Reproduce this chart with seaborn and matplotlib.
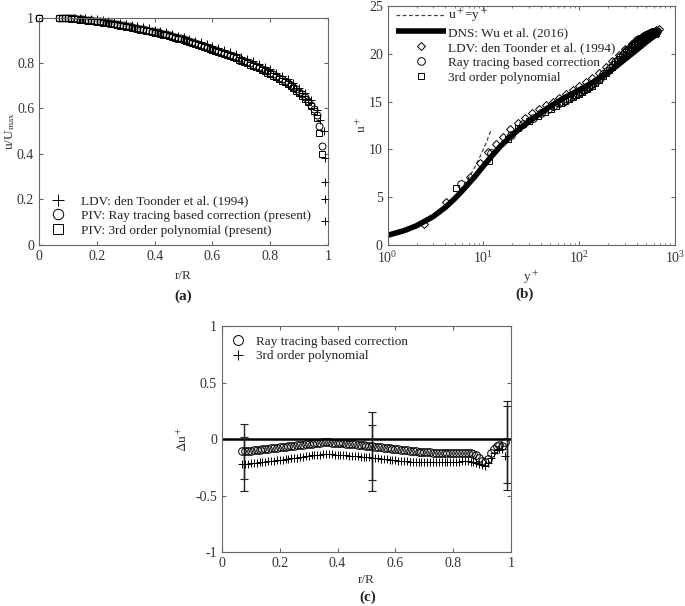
import numpy as np
import pandas as pd
import matplotlib
matplotlib.use('Agg')
import matplotlib.pyplot as plt
import seaborn as sns

# --- (a) и (c): радиальные позиции PIV ---
r_piv = [0.07, 0.08, 0.09, 0.10, 0.11, 0.12, 0.13, 0.14, 0.15, 0.16,
         0.17, 0.18, 0.19, 0.20, 0.21, 0.22, 0.23, 0.24, 0.25, 0.26,
         0.27, 0.28, 0.29, 0.30, 0.31, 0.32, 0.33, 0.34, 0.35, 0.36,
         0.37, 0.38, 0.39, 0.40, 0.41, 0.42, 0.43, 0.44, 0.45, 0.46,
         0.47, 0.48, 0.49, 0.50, 0.51, 0.52, 0.53, 0.54, 0.55, 0.56,
         0.57, 0.58, 0.59, 0.60, 0.61, 0.62, 0.63, 0.64, 0.65, 0.66,
         0.67, 0.68, 0.69, 0.70, 0.71, 0.72, 0.73, 0.74, 0.75, 0.76,
         0.77, 0.78, 0.79, 0.80, 0.81, 0.82, 0.83, 0.84, 0.85, 0.86,
         0.87, 0.88, 0.89, 0.90, 0.91, 0.92, 0.93, 0.94, 0.95, 0.96,
         0.97, 0.98]

u_ray = [1.000, 0.999, 0.999, 0.998, 0.997, 0.996, 0.995, 0.994, 0.993, 0.991,
         0.990, 0.988, 0.986, 0.985, 0.983, 0.981, 0.979, 0.977, 0.975, 0.973,
         0.971, 0.968, 0.966, 0.963, 0.961, 0.959, 0.956, 0.954, 0.951, 0.949,
         0.946, 0.943, 0.941, 0.938, 0.935, 0.932, 0.929, 0.926, 0.923, 0.919,
         0.916, 0.912, 0.908, 0.904, 0.900, 0.896, 0.892, 0.888, 0.884, 0.880,
         0.876, 0.872, 0.868, 0.863, 0.859, 0.854, 0.850, 0.845, 0.840, 0.835,
         0.830, 0.825, 0.820, 0.815, 0.810, 0.804, 0.799, 0.793, 0.787, 0.781,
         0.775, 0.769, 0.763, 0.757, 0.750, 0.743, 0.736, 0.729, 0.721, 0.713,
         0.704, 0.695, 0.685, 0.674, 0.662, 0.649, 0.634, 0.617, 0.596, 0.570,
         0.525, 0.435]

u_poly = [0.998, 0.997, 0.997, 0.996, 0.995, 0.994, 0.993, 0.991, 0.990, 0.988,
          0.987, 0.985, 0.983, 0.982, 0.980, 0.978, 0.976, 0.974, 0.972, 0.970,
          0.967, 0.965, 0.962, 0.960, 0.957, 0.955, 0.952, 0.950, 0.947, 0.945,
          0.942, 0.939, 0.937, 0.934, 0.931, 0.928, 0.925, 0.922, 0.918, 0.915,
          0.911, 0.907, 0.904, 0.900, 0.896, 0.892, 0.888, 0.884, 0.880, 0.876,
          0.872, 0.867, 0.863, 0.858, 0.854, 0.849, 0.845, 0.840, 0.835, 0.830,
          0.825, 0.820, 0.815, 0.810, 0.804, 0.799, 0.793, 0.788, 0.782, 0.776,
          0.770, 0.764, 0.757, 0.751, 0.744, 0.737, 0.730, 0.723, 0.715, 0.707,
          0.698, 0.689, 0.679, 0.668, 0.656, 0.642, 0.627, 0.609, 0.588, 0.560,
          0.490, 0.400]

r_ldv = [0.10, 0.12, 0.14, 0.16, 0.18, 0.20, 0.22, 0.24, 0.26, 0.28,
         0.30, 0.32, 0.34, 0.36, 0.38, 0.40, 0.42, 0.44, 0.46, 0.48,
         0.50, 0.52, 0.54, 0.56, 0.58, 0.60, 0.62, 0.64, 0.66, 0.68,
         0.70, 0.72, 0.74, 0.76, 0.78, 0.80, 0.82, 0.84, 0.86, 0.88,
         0.90, 0.92, 0.94, 0.96, 0.973, 0.985, 0.988, 0.988, 0.988, 0.988]
u_ldv = [1.000, 0.999, 0.998, 0.996, 0.994, 0.992, 0.989, 0.986, 0.982, 0.978,
         0.973, 0.968, 0.963, 0.958, 0.953, 0.947, 0.941, 0.935, 0.928, 0.921,
         0.914, 0.907, 0.899, 0.891, 0.883, 0.875, 0.866, 0.857, 0.848, 0.838,
         0.828, 0.818, 0.807, 0.796, 0.784, 0.772, 0.758, 0.744, 0.728, 0.710,
         0.690, 0.666, 0.638, 0.595, 0.550, 0.500, 0.380, 0.275, 0.200, 0.105]

# --- (b): пристеночные координаты ---
yp_dns = [1, 1.5, 2, 3, 4, 5, 6, 7, 8, 10, 12, 15, 20, 25, 30, 40, 50, 70,
          100, 150, 200, 300, 400, 500, 600, 685]
up_dns = [1.0, 1.5, 2.0, 2.97, 3.92, 4.82, 5.65, 6.4, 7.05, 8.25, 9.2, 10.3,
          11.5, 12.3, 12.9, 13.8, 14.5, 15.4, 16.2, 17.2, 18.0, 19.4, 20.4,
          21.2, 21.8, 22.1]

yp_ldv = [2.4, 4.1, 7.2, 9.2, 11.3, 13.5, 16, 19, 23, 27, 32, 38, 45, 53, 62,
          73, 86, 100, 118, 138, 162, 190, 222, 260, 305, 357, 418, 490, 575,
          640, 680]
up_ldv = [2.2, 4.5, 7.1, 8.6, 9.7, 10.6, 11.3, 12.1, 12.8, 13.3, 13.8, 14.2,
          14.6, 15.0, 15.4, 15.8, 16.2, 16.6, 17.0, 17.5, 18.0, 18.6, 19.2,
          19.9, 20.5, 21.0, 21.5, 22.0, 22.3, 22.5, 22.6]

yp_ray = [5.8, 12, 19.5, 26, 33, 40, 47, 54, 61, 68, 75, 82, 89, 96, 103,
          110, 117, 124, 131, 138, 150, 165, 180, 195, 210, 225, 240, 255,
          270, 285, 300, 315, 330, 345, 360, 375, 390, 405, 420, 435, 450,
          465, 480, 495, 510, 525, 540, 555, 570, 585, 600, 615, 630, 645]
up_ray = [6.4, 9.6, 11.5, 12.6, 13.3, 13.8, 14.2, 14.5, 14.8, 15.0, 15.25,
          15.45, 15.65, 15.85, 16.0, 16.2, 16.4, 16.55, 16.7, 16.85, 17.15,
          17.5, 17.85, 18.2, 18.5, 18.8, 19.1, 19.4, 19.65, 19.9, 20.15,
          20.35, 20.55, 20.75, 20.95, 21.1, 21.25, 21.4, 21.5, 21.6, 21.7,
          21.8, 21.9, 21.95, 22.0, 22.05, 22.1, 22.15, 22.2, 22.25, 22.28,
          22.3, 22.32, 22.35]

yp_poly = [5.2, 11.5, 18, 23, 30, 37, 44, 51, 58, 65, 72, 79, 86, 93, 100,
           107, 114, 121, 128, 135, 147, 162, 177, 192, 207, 222, 237, 252,
           267, 282, 297, 312, 327, 342, 357, 372, 387, 402, 417, 432, 447,
           462, 477, 492, 507, 522, 537, 552, 567, 582, 597, 612, 627, 642]
up_poly = [6.0, 8.8, 11.1, 12.2, 13.0, 13.5, 13.9, 14.25, 14.55, 14.8, 15.05,
           15.25, 15.45, 15.65, 15.8, 16.0, 16.2, 16.35, 16.5, 16.65, 16.95,
           17.3, 17.65, 18.0, 18.3, 18.6, 18.9, 19.2, 19.45, 19.7, 19.95,
           20.15, 20.35, 20.55, 20.75, 20.9, 21.05, 21.2, 21.3, 21.4, 21.5,
           21.6, 21.7, 21.75, 21.8, 21.85, 21.9, 21.95, 22.0, 22.05, 22.08,
           22.1, 22.12, 22.15]

yp_lin = [1, 1.5, 2, 3, 4, 5, 6, 7, 8, 9, 10, 11, 12]
up_lin = [1, 1.5, 2, 3, 4, 5, 6, 7, 8, 9, 10, 11, 12]

# --- (c): разность Δu+ ---
du_ray = [-0.110, -0.110, -0.107, -0.104, -0.101, -0.098, -0.095, -0.092, -0.089, -0.086,
          -0.083, -0.080, -0.077, -0.074, -0.071, -0.068, -0.065, -0.062, -0.059, -0.056,
          -0.053, -0.050, -0.047, -0.044, -0.041, -0.038, -0.035, -0.032, -0.030, -0.030,
          -0.030, -0.031, -0.032, -0.034, -0.036, -0.038, -0.040, -0.042, -0.044, -0.047,
          -0.050, -0.053, -0.056, -0.059, -0.062, -0.065, -0.068, -0.071, -0.074, -0.077,
          -0.080, -0.083, -0.086, -0.089, -0.092, -0.095, -0.098, -0.101, -0.104, -0.107,
          -0.110, -0.112, -0.114, -0.116, -0.118, -0.119, -0.120, -0.121, -0.122, -0.123,
          -0.123, -0.123, -0.123, -0.122, -0.122, -0.121, -0.121, -0.121, -0.122, -0.124,
          -0.128, -0.140, -0.165, -0.190, -0.205, -0.180, -0.120, -0.085, -0.060, -0.050,
          -0.065, -0.030]

du_poly = [-0.225, -0.222, -0.219, -0.216, -0.213, -0.210, -0.207, -0.204, -0.201, -0.198,
           -0.195, -0.192, -0.189, -0.186, -0.183, -0.180, -0.176, -0.172, -0.168, -0.164,
           -0.160, -0.156, -0.152, -0.148, -0.145, -0.142, -0.140, -0.138, -0.136, -0.135,
           -0.135, -0.136, -0.137, -0.139, -0.141, -0.143, -0.145, -0.147, -0.149, -0.151,
           -0.153, -0.155, -0.157, -0.159, -0.162, -0.165, -0.168, -0.171, -0.174, -0.177,
           -0.180, -0.183, -0.186, -0.189, -0.191, -0.193, -0.195, -0.197, -0.199, -0.200,
           -0.201, -0.202, -0.203, -0.204, -0.205, -0.205, -0.205, -0.205, -0.205, -0.204,
           -0.204, -0.203, -0.202, -0.201, -0.200, -0.199, -0.198, -0.198, -0.198, -0.199,
           -0.202, -0.210, -0.222, -0.232, -0.235, -0.215, -0.165, -0.125, -0.095, -0.085,
           -0.090, -0.150]

err_r = [0.075, 0.52, 0.985]
err_ray = [-0.11, -0.065, -0.025]
err_ray_d = [0.24, 0.30, 0.36]
err_poly = [-0.22, -0.17, -0.08]
err_poly_d = [0.24, 0.29, 0.37]

sns.set_style('ticks')
plt.rcParams['font.family'] = ['Liberation Serif', 'DejaVu Serif']
plt.rcParams['mathtext.fontset'] = 'stix'
plt.rcParams['xtick.direction'] = 'in'
plt.rcParams['ytick.direction'] = 'in'
plt.rcParams['xtick.top'] = True
plt.rcParams['ytick.right'] = True
plt.rcParams['axes.edgecolor'] = '#666666'
plt.rcParams['xtick.color'] = '#666666'
plt.rcParams['ytick.color'] = '#666666'
plt.rcParams['xtick.labelcolor'] = '#333333'
plt.rcParams['ytick.labelcolor'] = '#333333'
plt.rcParams['axes.labelcolor'] = '#333333'
plt.rcParams['text.color'] = '#222222'
plt.rcParams['xtick.labelsize'] = 10
plt.rcParams['ytick.labelsize'] = 10
plt.rcParams['axes.labelsize'] = 9.5
plt.rcParams['xtick.major.size'] = 3
plt.rcParams['ytick.major.size'] = 3
plt.rcParams['xtick.minor.size'] = 1.5
plt.rcParams['axes.linewidth'] = 0.8

fig = plt.figure(figsize=(6.85, 6.06), dpi=100)
ax_a = fig.add_axes([0.057, 0.596, 0.422, 0.375])
ax_b = fig.add_axes([0.566, 0.596, 0.419, 0.394])
ax_c = fig.add_axes([0.324, 0.089, 0.422, 0.373])

mk = dict(linestyle='', color='k', mec='k', mfc='none', mew=0.7, sort=False, estimator=None)

# (a)
sns.lineplot(x=[0.0] + r_piv, y=[1.0] + u_poly, ax=ax_a, marker='s', ms=4.5, **mk)
sns.lineplot(x=[0.0] + r_piv, y=[1.0] + u_ray, ax=ax_a, marker='o', ms=5, **mk)
sns.lineplot(x=r_ldv, y=u_ldv, ax=ax_a, marker='+', ms=6, **mk)
for ln in ax_a.get_lines():
    ln.set_clip_on(False)
ax_a.set_xlim(0, 1)
ax_a.set_ylim(0, 1)
ax_a.set_xticks([0, 0.2, 0.4, 0.6, 0.8, 1])
ax_a.set_xticklabels(['0', '0.2', '0.4', '0.6', '0.8', '1'])
ax_a.set_yticks([0, 0.2, 0.4, 0.6, 0.8, 1])
ax_a.set_yticklabels(['0', '0.2', '0.4', '0.6', '0.8', '1'])
ax_a.set_xlabel('r/R', labelpad=5)
ax_a.set_ylabel('u/U$_{\\mathrm{max}}$', labelpad=0)
h = ax_a.get_lines()
ax_a.legend([h[2], h[1], h[0]],
            ['LDV: den Toonder et al. (1994)',
             'PIV: Ray tracing based correction (present)',
             'PIV: 3rd order polynomial (present)'],
            loc='lower left', frameon=False, fontsize=9.5, markerscale=1.5,
            handlelength=1.6, handletextpad=1.0, labelspacing=0.2,
            borderaxespad=0.2)

# (b)
sns.lineplot(x=yp_lin, y=up_lin, ax=ax_b, color='#444444', lw=0.9, linestyle=(0, (3, 2)),
             sort=False, estimator=None)
sns.lineplot(x=yp_dns, y=up_dns, ax=ax_b, color='k', lw=4, linestyle='-',
             solid_capstyle='butt', sort=False, estimator=None)
sns.lineplot(x=yp_ldv, y=up_ldv, ax=ax_b, marker='D', ms=4.5, **mk)
sns.lineplot(x=yp_ray, y=up_ray, ax=ax_b, marker='o', ms=5.5, **mk)
sns.lineplot(x=yp_poly, y=up_poly, ax=ax_b, marker='s', ms=5, **mk)
ax_b.set_xscale('log')
ax_b.set_xlim(1, 1000)
ax_b.set_ylim(0, 25)
ax_b.set_yticks([0, 5, 10, 15, 20, 25])
ax_b.set_xlabel('y$^+$', labelpad=2)
ax_b.set_ylabel('u$^+$', labelpad=0)
h = ax_b.get_lines()
ax_b.legend(h[:5],
            ['u$^+$=y$^+$', 'DNS: Wu et al. (2016)', 'LDV: den Toonder et al. (1994)',
             'Ray tracing based correction', '3rd order polynomial'],
            loc='upper left', bbox_to_anchor=(0.0, 1.03), frameon=False,
            fontsize=9.5, handlelength=3.8, handletextpad=0.2, labelspacing=0.2,
            borderaxespad=0.2)

# (c)
ax_c.axhline(0, color='k', lw=1.8)
ax_c.errorbar(err_r, err_ray, yerr=err_ray_d, fmt='none', ecolor='#222222',
              elinewidth=1.0, capsize=3, capthick=0.8)
ax_c.errorbar(err_r, err_poly, yerr=err_poly_d, fmt='none', ecolor='#222222',
              elinewidth=1.0, capsize=3, capthick=0.8)
sns.lineplot(x=r_piv, y=du_poly, ax=ax_c, marker='+', ms=6, **mk)
sns.lineplot(x=r_piv, y=du_ray, ax=ax_c, marker='o', ms=5.5, **mk)
ax_c.set_xlim(0, 1)
ax_c.set_ylim(-1, 1)
ax_c.set_xticks([0, 0.2, 0.4, 0.6, 0.8, 1])
ax_c.set_xticklabels(['0', '0.2', '0.4', '0.6', '0.8', '1'])
ax_c.set_yticks([-1, -0.5, 0, 0.5, 1])
ax_c.set_yticklabels(['-1', '-0.5', '0', '0.5', '1'])
ax_c.set_xlabel('r/R', labelpad=3)
ax_c.set_ylabel('$\\Delta$u$^+$', labelpad=4)
h = ax_c.get_lines()
ax_c.legend([h[-1], h[-2]], ['Ray tracing based correction', '3rd order polynomial'],
            loc='upper left', frameon=False, fontsize=9.5, markerscale=1.3,
            handlelength=1.0, handletextpad=0.9, labelspacing=0.2, borderaxespad=0.3)

fig.text(183 / 685, 1 - 296 / 606, '(a)', ha='center', va='center',
         fontsize=11, fontweight='bold')
fig.text(525 / 685, 1 - 294 / 606, '(b)', ha='center', va='center',
         fontsize=11, fontweight='bold')
fig.text(368 / 685, 1 - 597 / 606, '(c)', ha='center', va='center',
         fontsize=11, fontweight='bold')

fig.savefig('out.png', dpi=100)
